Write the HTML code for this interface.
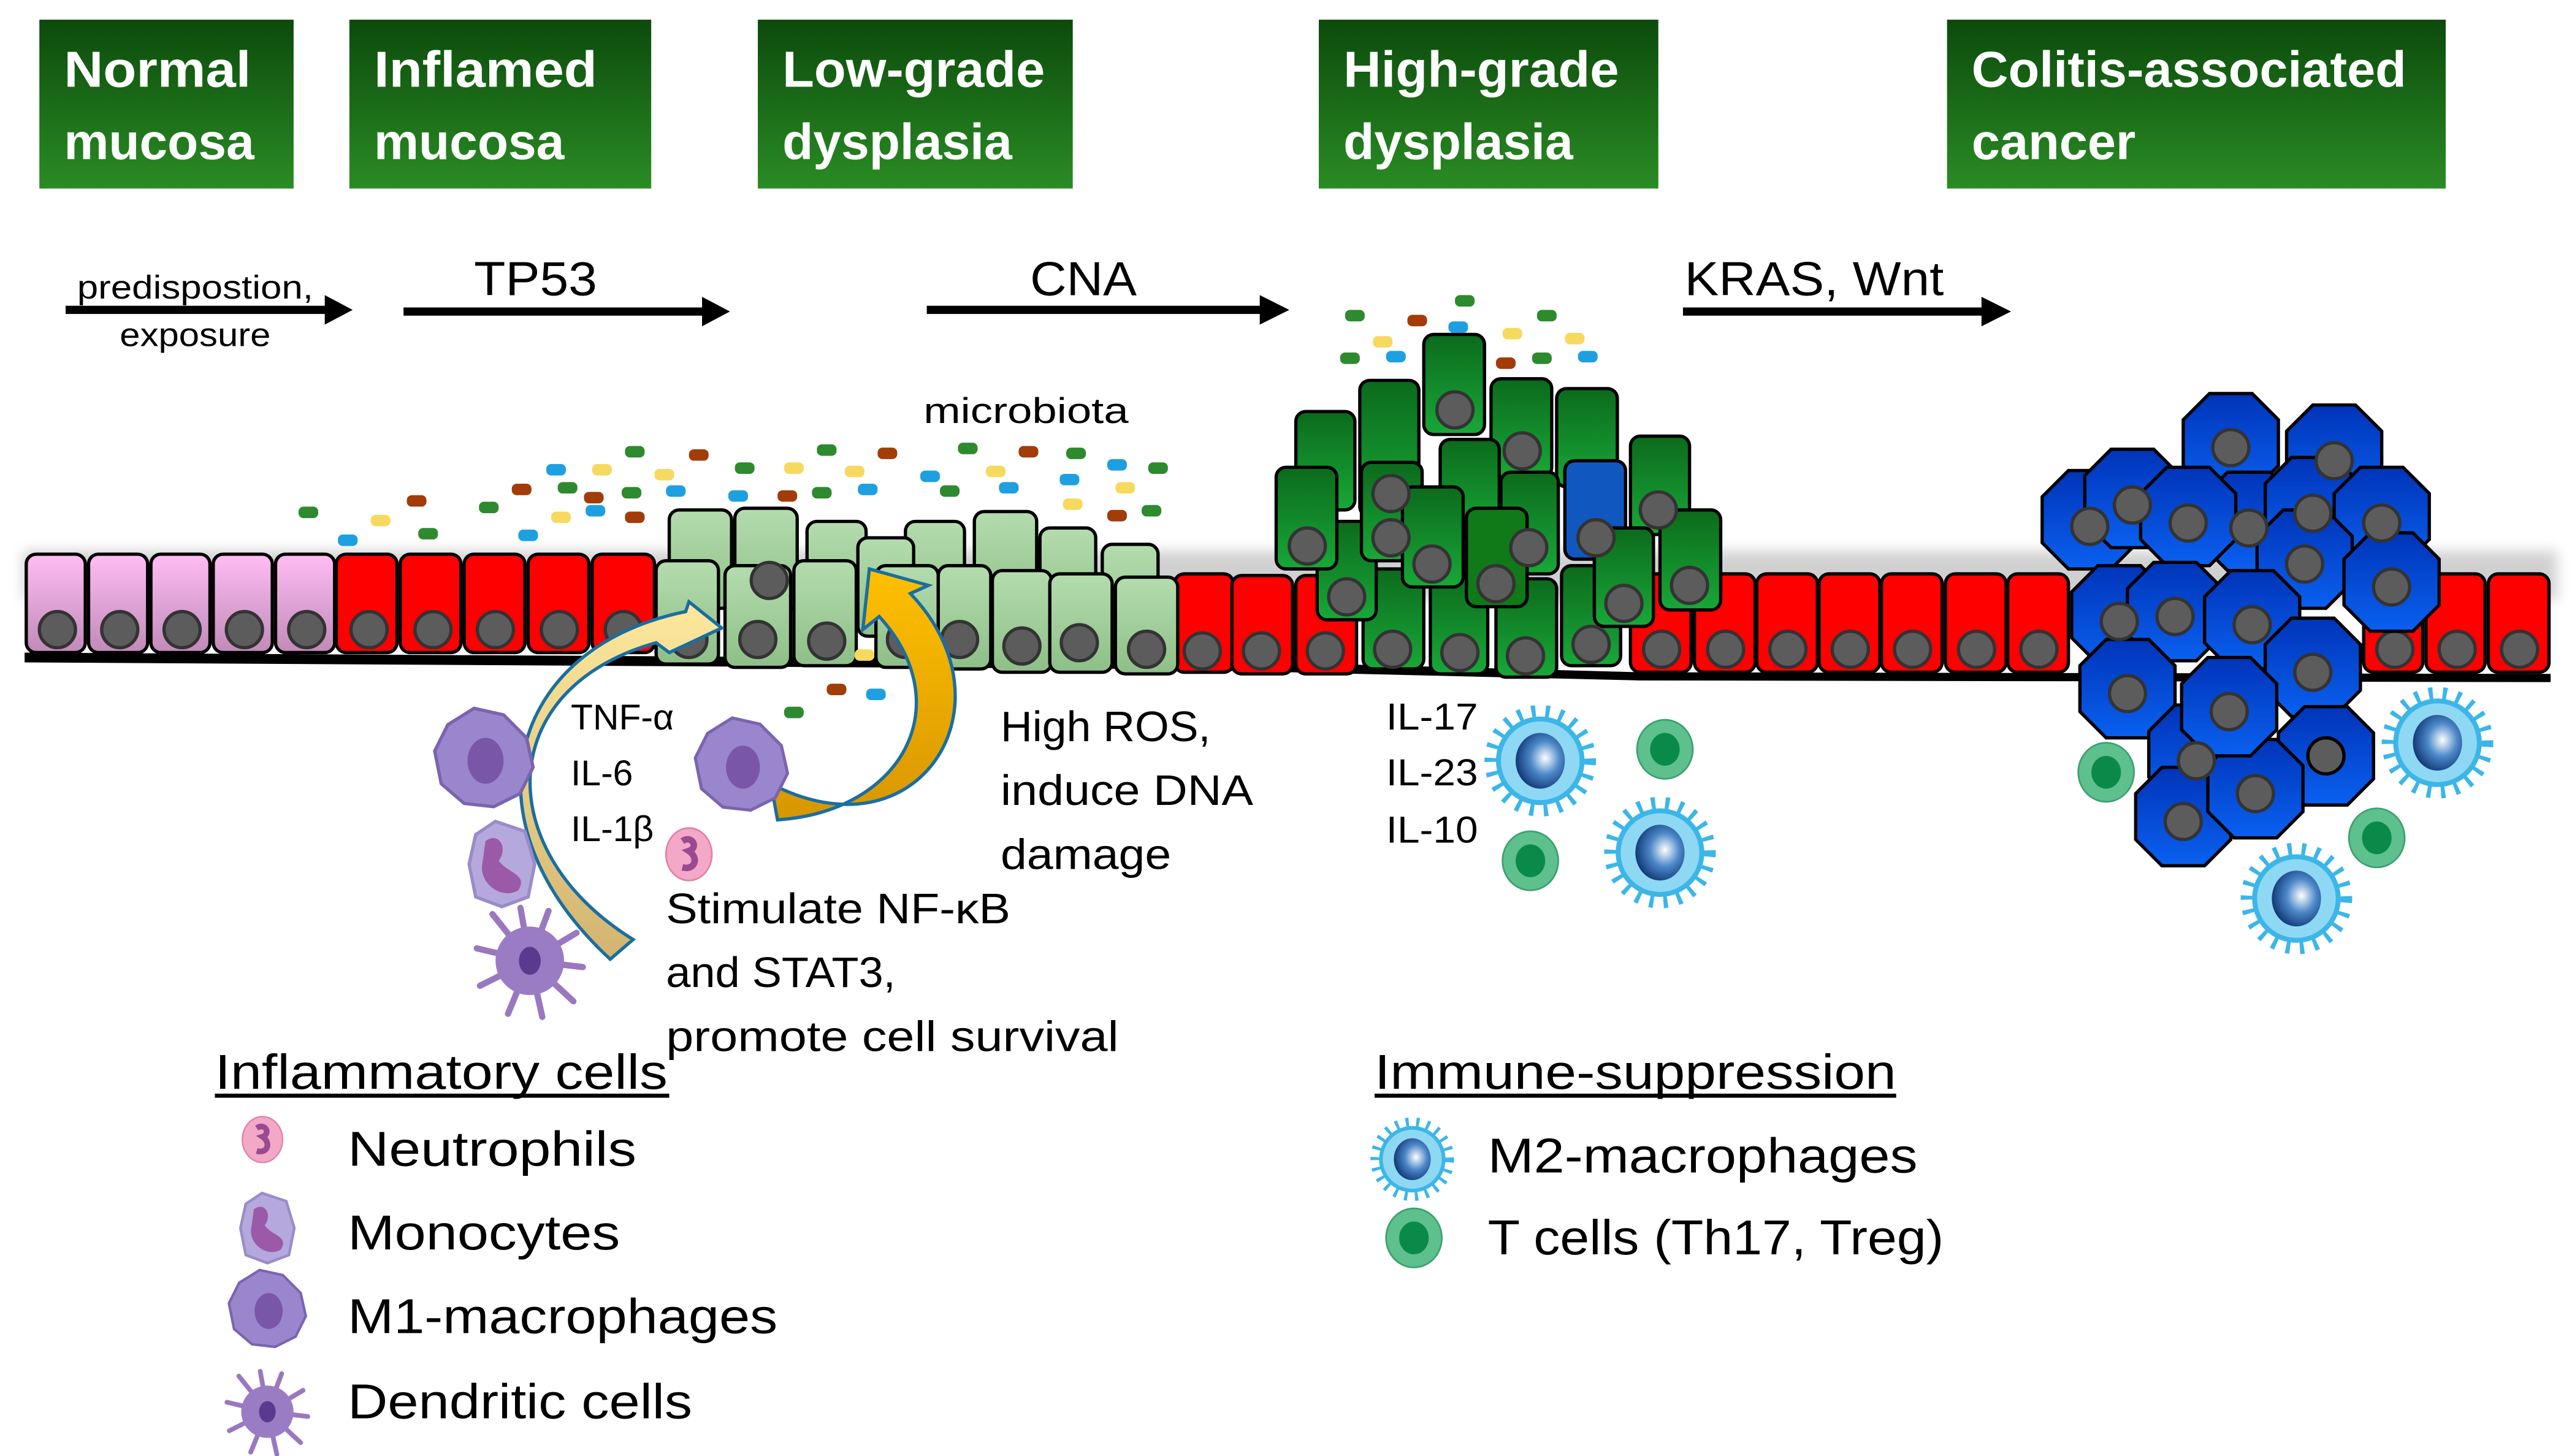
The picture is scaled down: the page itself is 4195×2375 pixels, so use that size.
<!DOCTYPE html>
<html><head><meta charset="utf-8"><style>html,body{margin:0;padding:0;background:#fff}svg{display:block}text{font-family:"Liberation Sans",sans-serif}</style></head>
<body>
<svg width="4195" height="2375" viewBox="0 0 1568 888" preserveAspectRatio="none" xmlns="http://www.w3.org/2000/svg">
<defs>
<linearGradient id="hdr" x1="0" y1="0" x2="0" y2="1"><stop offset="0" stop-color="#0c4a0c"/><stop offset="1" stop-color="#2a8c24"/></linearGradient>
<linearGradient id="lg" x1="0" y1="0" x2="0" y2="1"><stop offset="0" stop-color="#b4dcae"/><stop offset="1" stop-color="#8ebf88"/></linearGradient>
<linearGradient id="pk" x1="0" y1="0" x2="0" y2="1"><stop offset="0" stop-color="#ffbdf4"/><stop offset="1" stop-color="#c08ab8"/></linearGradient>
<linearGradient id="dg" x1="0" y1="0" x2="0" y2="1"><stop offset="0" stop-color="#0c6a1c"/><stop offset="1" stop-color="#18a838"/></linearGradient>
<linearGradient id="bl" x1="0" y1="0" x2="0" y2="1"><stop offset="0" stop-color="#0034b8"/><stop offset="1" stop-color="#0a60f0"/></linearGradient>
<linearGradient id="ya" x1="0" y1="0" x2="0" y2="1"><stop offset="0" stop-color="#fde89c"/><stop offset="1" stop-color="#d2b470"/></linearGradient>
<linearGradient id="oa" x1="0" y1="0" x2="0" y2="1"><stop offset="0" stop-color="#ffc000"/><stop offset="1" stop-color="#d89600"/></linearGradient>
<radialGradient id="nuc" cx="0.6" cy="0.45" r="0.6"><stop offset="0" stop-color="#fff"/><stop offset="0.5" stop-color="#4c88c8"/><stop offset="1" stop-color="#123a78"/></radialGradient>
<filter id="sh" x="-10%" y="-50%" width="120%" height="200%"><feGaussianBlur stdDeviation="4"/></filter>
<symbol id="m2" viewBox="-36 -36 72 72">
<circle r="30" fill="none" stroke="#3cb6e8" stroke-width="8" stroke-dasharray="2.5 6"/>
<circle r="27" fill="#3cb6e8"/><circle r="24" fill="#8fd8f4"/>
<ellipse rx="15" ry="17" fill="url(#nuc)"/>
</symbol>
<symbol id="tc" viewBox="-20 -20 40 40"><ellipse rx="17" ry="18" fill="#5ec08c" stroke="#3aa070"/><ellipse rx="9" ry="10" fill="#0a8a48"/></symbol>
<symbol id="m1" viewBox="-32 -32 64 64"><path d="M-6,-30 L12,-26 L26,-12 L30,6 L22,22 L6,30 L-12,28 L-26,16 L-30,-4 L-22,-20 Z" fill="#9a86cc" stroke="#7a64b0" stroke-width="2"/><ellipse cx="1" cy="2" rx="11" ry="14" fill="#7a56a8"/></symbol>
<symbol id="mo" viewBox="-24 -28 48 56"><path d="M-4,-26 L14,-20 L20,0 L16,20 L0,26 L-16,20 L-20,0 L-16,-18 Z" fill="#b4a8dc" stroke="#9a8cc8" stroke-width="2"/><path d="M-10,-14 C-2,-20 4,-10 -2,-2 C4,6 16,6 10,16 C0,22 -14,12 -12,0 Z" fill="#9a5aa8"/></symbol>
<symbol id="dc" viewBox="-40 -40 80 80"><g stroke="#9a78c0" stroke-width="4" stroke-linecap="round"><path d="M0,0 L-24,-30 M0,0 L-6,-34 M0,0 L12,-32 M0,0 L30,-18 M0,0 L34,4 M0,0 L28,26 M0,0 L8,36 M0,0 L-14,34 M0,0 L-32,16 M0,0 L-34,-8"/></g><circle r="22" fill="#9a7cc4"/><ellipse rx="7" ry="9" fill="#5a3a8e"/></symbol>
<symbol id="ne" viewBox="-16 -18 32 36"><ellipse rx="14" ry="16" fill="#f4a8c8" stroke="#e080a8"/><path d="M-4,-8 C2,-12 6,-4 0,-2 C6,2 4,10 -4,8" stroke="#9a4a90" stroke-width="4" fill="none"/></symbol>
</defs>

<g fill="url(#hdr)">
<rect x="24" y="12" width="155" height="103"/><rect x="213" y="12" width="184" height="103"/><rect x="462" y="12" width="192" height="103"/><rect x="804" y="12" width="207" height="103"/><rect x="1187" y="12" width="304" height="103"/>
</g>
<g fill="#fff" font-weight="bold" font-size="31">
<text x="39" y="53" textLength="114" lengthAdjust="spacingAndGlyphs">Normal</text><text x="39" y="97" textLength="116" lengthAdjust="spacingAndGlyphs">mucosa</text>
<text x="228" y="53" textLength="136" lengthAdjust="spacingAndGlyphs">Inflamed</text><text x="228" y="97" textLength="116" lengthAdjust="spacingAndGlyphs">mucosa</text>
<text x="477" y="53" textLength="160" lengthAdjust="spacingAndGlyphs">Low-grade</text><text x="477" y="97" textLength="140" lengthAdjust="spacingAndGlyphs">dysplasia</text>
<text x="819" y="53" textLength="168" lengthAdjust="spacingAndGlyphs">High-grade</text><text x="819" y="97" textLength="140" lengthAdjust="spacingAndGlyphs">dysplasia</text>
<text x="1202" y="53" textLength="265" lengthAdjust="spacingAndGlyphs">Colitis-associated</text><text x="1202" y="97" textLength="100" lengthAdjust="spacingAndGlyphs">cancer</text>
</g>

<g stroke="#000" stroke-width="5"><line x1="40" y1="189" x2="200" y2="189"/><line x1="246" y1="190" x2="430" y2="190"/><line x1="565" y1="189" x2="770" y2="189"/><line x1="1026" y1="190" x2="1210" y2="190"/></g>
<g fill="#000"><polygon points="198,180 215,189 198,198"/><polygon points="428,181 445,190 428,199"/><polygon points="768,180 786,189 768,198"/><polygon points="1208,181 1226,190 1208,199"/></g>
<g font-size="20" text-anchor="middle"><text x="119" y="182" textLength="144" lengthAdjust="spacingAndGlyphs">predispostion,</text><text x="119" y="211" textLength="92" lengthAdjust="spacingAndGlyphs">exposure</text></g>
<g font-size="29"><text x="289" y="180" textLength="75" lengthAdjust="spacingAndGlyphs">TP53</text><text x="628" y="180" textLength="65" lengthAdjust="spacingAndGlyphs">CNA</text><text x="1027" y="180" textLength="158" lengthAdjust="spacingAndGlyphs">KRAS, Wnt</text></g>
<text x="563" y="258" font-size="22" textLength="125" lengthAdjust="spacingAndGlyphs">microbiota</text>

<rect x="14" y="336" width="1545" height="30" fill="#000" opacity="0.18" filter="url(#sh)"/>

<polygon points="15,398 700,402 1000,410 1555,411 1555,416 1000,415 700,408 15,404" fill="#000"/>

<g stroke="#000" stroke-width="2">
<g fill="url(#pk)"><rect x="16" y="338" width="36" height="60" rx="6"/><rect x="54" y="338" width="36" height="60" rx="6"/><rect x="92" y="338" width="36" height="60" rx="6"/><rect x="130" y="338" width="36" height="60" rx="6"/><rect x="168" y="338" width="36" height="60" rx="6"/></g>
<g fill="#f00"><rect x="205" y="338" width="37" height="60" rx="6"/><rect x="244" y="338" width="37" height="60" rx="6"/><rect x="283" y="338" width="37" height="60" rx="6"/><rect x="322" y="338" width="37" height="60" rx="6"/><rect x="361" y="338" width="38" height="60" rx="6"/>
<rect x="716" y="350" width="36" height="60" rx="6"/><rect x="751" y="351" width="37" height="60" rx="6"/><rect x="790" y="351" width="37" height="60" rx="6"/>
<rect x="994" y="350" width="37" height="60" rx="6"/><rect x="1033" y="350" width="37" height="60" rx="6"/><rect x="1071" y="350" width="37" height="60" rx="6"/><rect x="1109" y="350" width="37" height="60" rx="6"/><rect x="1147" y="350" width="37" height="60" rx="6"/><rect x="1186" y="350" width="37" height="60" rx="6"/><rect x="1224" y="350" width="37" height="60" rx="6"/>
<rect x="1441" y="350" width="36" height="60" rx="6"/><rect x="1479" y="350" width="36" height="60" rx="6"/><rect x="1517" y="350" width="37" height="60" rx="6"/></g>
</g>
<g fill="#5c5c5c" stroke="#333" stroke-width="2">
<circle cx="35" cy="384" r="11"/><circle cx="73" cy="384" r="11"/><circle cx="111" cy="384" r="11"/><circle cx="149" cy="384" r="11"/><circle cx="187" cy="384" r="11"/>
<circle cx="225" cy="384" r="11"/><circle cx="264" cy="384" r="11"/><circle cx="302" cy="384" r="11"/><circle cx="341" cy="384" r="11"/><circle cx="380" cy="384" r="11"/>
<circle cx="733" cy="397" r="11"/><circle cx="769" cy="397" r="11"/><circle cx="808" cy="397" r="11"/>
<circle cx="1013" cy="396" r="11"/><circle cx="1052" cy="396" r="11"/><circle cx="1090" cy="396" r="11"/><circle cx="1128" cy="396" r="11"/><circle cx="1166" cy="396" r="11"/><circle cx="1205" cy="396" r="11"/><circle cx="1243" cy="396" r="11"/>
<circle cx="1460" cy="396" r="11"/><circle cx="1498" cy="396" r="11"/><circle cx="1536" cy="396" r="11"/>
</g>

<g stroke="#000" stroke-width="2" fill="url(#lg)">
<rect x="408" y="311" width="38" height="60" rx="6"/><rect x="492" y="318" width="36" height="60" rx="6"/><rect x="552" y="318" width="36" height="60" rx="6"/><rect x="594" y="312" width="38" height="62" rx="6"/><rect x="634" y="322" width="34" height="60" rx="6"/><rect x="672" y="332" width="34" height="60" rx="6"/>
<rect x="400" y="342" width="38" height="63" rx="6"/><rect x="448" y="310" width="38" height="62" rx="6"/><rect x="523" y="328" width="34" height="60" rx="6"/>
<rect x="442" y="345" width="40" height="62" rx="6"/><rect x="484" y="342" width="38" height="64" rx="6"/><rect x="534" y="345" width="38" height="62" rx="6"/><rect x="572" y="345" width="32" height="63" rx="6"/><rect x="605" y="348" width="36" height="62" rx="6"/><rect x="640" y="350" width="38" height="60" rx="6"/><rect x="680" y="352" width="38" height="59" rx="6"/>
</g>
<g fill="#5c5c5c" stroke="#333" stroke-width="2">
<circle cx="469" cy="354" r="11"/><circle cx="420" cy="390" r="11"/><circle cx="462" cy="390" r="11"/><circle cx="504" cy="391" r="11"/><circle cx="552" cy="390" r="11"/><circle cx="585" cy="390" r="11"/><circle cx="623" cy="394" r="11"/><circle cx="658" cy="392" r="11"/><circle cx="699" cy="396" r="11"/>
</g>

<g stroke="#000" stroke-width="2">
<g fill="url(#dg)">
<rect x="790" y="251" width="36" height="60" rx="6"/><rect x="829" y="232" width="36" height="83" rx="6"/><rect x="909" y="231" width="37" height="60" rx="6"/><rect x="949" y="237" width="37" height="60" rx="6"/><rect x="994" y="266" width="36" height="60" rx="6"/>
<rect x="868" y="204" width="37" height="61" rx="6"/>
<rect x="831" y="347" width="37" height="61" rx="6"/><rect x="872" y="350" width="35" height="61" rx="6"/><rect x="912" y="353" width="37" height="60" rx="6"/><rect x="952" y="345" width="36" height="61" rx="6"/>
<rect x="803" y="318" width="36" height="60" rx="6"/><rect x="878" y="268" width="36" height="60" rx="6"/><rect x="830" y="282" width="37" height="60" rx="6"/><rect x="915" y="288" width="35" height="62" rx="6"/>
<rect x="778" y="285" width="37" height="62" rx="6"/><rect x="855" y="297" width="37" height="61" rx="6"/><rect x="894" y="310" width="37" height="60" rx="6" fill="#107a18"/>
<rect x="972" y="322" width="36" height="60" rx="6"/><rect x="1012" y="311" width="37" height="61" rx="6"/>
</g>
<rect x="954" y="281" width="37" height="60" rx="6" fill="#1058c0"/>
<rect x="972" y="322" width="36" height="60" rx="6" fill="url(#dg)"/>
</g>
<g fill="#5c5c5c" stroke="#333" stroke-width="2">
<circle cx="887" cy="250" r="11"/><circle cx="849" cy="396" r="11"/><circle cx="890" cy="398" r="11"/><circle cx="930" cy="400" r="11"/><circle cx="970" cy="393" r="11"/>
<circle cx="821" cy="364" r="11"/><circle cx="848" cy="328" r="11"/><circle cx="797" cy="333" r="11"/><circle cx="873" cy="344" r="11"/><circle cx="912" cy="356" r="11"/><circle cx="928" cy="275" r="11"/><circle cx="932" cy="334" r="11"/>
<circle cx="973" cy="328" r="11"/><circle cx="990" cy="368" r="11"/><circle cx="1030" cy="357" r="11"/><circle cx="1011" cy="311" r="11"/><circle cx="848" cy="301" r="11"/>
</g>

<g stroke="#000" stroke-width="2" fill="url(#bl)">
<polygon points="-13,-30 13,-30 29,-14 29,14 13,30 -13,30 -29,14 -29,-14" transform="translate(1274,317)"/>
<polygon points="-13,-30 13,-30 29,-14 29,14 13,30 -13,30 -29,14 -29,-14" transform="translate(1300,304)"/>
<polygon points="-13,-30 13,-30 29,-14 29,14 13,30 -13,30 -29,14 -29,-14" transform="translate(1360,270)"/>
<polygon points="-13,-30 13,-30 29,-14 29,14 13,30 -13,30 -29,14 -29,-14" transform="translate(1423,277)"/>
<polygon points="-13,-30 13,-30 29,-14 29,14 13,30 -13,30 -29,14 -29,-14" transform="translate(1371,318)"/>
<polygon points="-13,-30 13,-30 29,-14 29,14 13,30 -13,30 -29,14 -29,-14" transform="translate(1410,309)"/>
<polygon points="-13,-30 13,-30 29,-14 29,14 13,30 -13,30 -29,14 -29,-14" transform="translate(1452,315)"/>
<polygon points="-13,-30 13,-30 29,-14 29,14 13,30 -13,30 -29,14 -29,-14" transform="translate(1334,315)"/>
<polygon points="-13,-30 13,-30 29,-14 29,14 13,30 -13,30 -29,14 -29,-14" transform="translate(1292,375)"/>
<polygon points="-13,-30 13,-30 29,-14 29,14 13,30 -13,30 -29,14 -29,-14" transform="translate(1405,341)"/>
<polygon points="-13,-30 13,-30 29,-14 29,14 13,30 -13,30 -29,14 -29,-14" transform="translate(1458,355)"/>
<polygon points="-13,-30 13,-30 29,-14 29,14 13,30 -13,30 -29,14 -29,-14" transform="translate(1326,373)"/>
<polygon points="-13,-30 13,-30 29,-14 29,14 13,30 -13,30 -29,14 -29,-14" transform="translate(1373,378)"/>
<polygon points="-13,-30 13,-30 29,-14 29,14 13,30 -13,30 -29,14 -29,-14" transform="translate(1410,407)"/>
<polygon points="-13,-30 13,-30 29,-14 29,14 13,30 -13,30 -29,14 -29,-14" transform="translate(1297,420)"/>
<polygon points="-13,-30 13,-30 29,-14 29,14 13,30 -13,30 -29,14 -29,-14" transform="translate(1339,460)"/>
<polygon points="-13,-30 13,-30 29,-14 29,14 13,30 -13,30 -29,14 -29,-14" transform="translate(1418,461)"/>
<polygon points="-13,-30 13,-30 29,-14 29,14 13,30 -13,30 -29,14 -29,-14" transform="translate(1331,498)"/>
<polygon points="-13,-30 13,-30 29,-14 29,14 13,30 -13,30 -29,14 -29,-14" transform="translate(1375,481)"/>
<polygon points="-13,-30 13,-30 29,-14 29,14 13,30 -13,30 -29,14 -29,-14" transform="translate(1359,431)"/>
</g>
<g fill="#5c5c5c" stroke="#333" stroke-width="2">
<circle cx="1274" cy="321" r="11"/><circle cx="1300" cy="308" r="11"/><circle cx="1360" cy="273" r="11"/><circle cx="1423" cy="281" r="11"/><circle cx="1371" cy="322" r="11"/><circle cx="1410" cy="313" r="11"/><circle cx="1452" cy="319" r="11"/><circle cx="1334" cy="319" r="11"/><circle cx="1292" cy="379" r="11"/><circle cx="1405" cy="344" r="11"/><circle cx="1458" cy="358" r="11"/><circle cx="1326" cy="376" r="11"/><circle cx="1373" cy="381" r="11"/><circle cx="1410" cy="410" r="11"/><circle cx="1297" cy="423" r="11"/><circle cx="1339" cy="464" r="11"/><circle cx="1418" cy="461" r="11" stroke="#000"/><circle cx="1331" cy="501" r="11"/><circle cx="1375" cy="484" r="11"/><circle cx="1359" cy="434" r="11"/>
</g>

<g>
<g fill="#2e8a2e"><rect x="182" y="309" width="12" height="7" rx="3"/><rect x="255" y="322" width="12" height="7" rx="3"/><rect x="292" y="306" width="12" height="7" rx="3"/><rect x="340" y="294" width="12" height="7" rx="3"/><rect x="379" y="297" width="12" height="7" rx="3"/><rect x="381" y="272" width="12" height="7" rx="3"/><rect x="448" y="282" width="12" height="7" rx="3"/><rect x="495" y="297" width="12" height="7" rx="3"/><rect x="498" y="271" width="12" height="7" rx="3"/><rect x="573" y="296" width="12" height="7" rx="3"/><rect x="584" y="270" width="12" height="7" rx="3"/><rect x="650" y="273" width="12" height="7" rx="3"/><rect x="696" y="308" width="12" height="7" rx="3"/><rect x="700" y="282" width="12" height="7" rx="3"/><rect x="478" y="431" width="12" height="7" rx="3"/><rect x="820" y="189" width="12" height="7" rx="3"/><rect x="887" y="180" width="12" height="7" rx="3"/><rect x="937" y="189" width="12" height="7" rx="3"/><rect x="817" y="215" width="12" height="7" rx="3"/><rect x="934" y="215" width="12" height="7" rx="3"/></g>
<g fill="#a23c08"><rect x="248" y="302" width="12" height="7" rx="3"/><rect x="312" y="295" width="12" height="7" rx="3"/><rect x="356" y="300" width="12" height="7" rx="3"/><rect x="381" y="312" width="12" height="7" rx="3"/><rect x="420" y="274" width="12" height="7" rx="3"/><rect x="474" y="299" width="12" height="7" rx="3"/><rect x="535" y="273" width="12" height="7" rx="3"/><rect x="621" y="272" width="12" height="7" rx="3"/><rect x="675" y="311" width="12" height="7" rx="3"/><rect x="504" y="417" width="12" height="7" rx="3"/><rect x="858" y="192" width="12" height="7" rx="3"/><rect x="912" y="218" width="12" height="7" rx="3"/></g>
<g fill="#1ea0e0"><rect x="206" y="326" width="12" height="7" rx="3"/><rect x="316" y="323" width="12" height="7" rx="3"/><rect x="333" y="283" width="12" height="7" rx="3"/><rect x="357" y="308" width="12" height="7" rx="3"/><rect x="406" y="296" width="12" height="7" rx="3"/><rect x="444" y="299" width="12" height="7" rx="3"/><rect x="523" y="295" width="12" height="7" rx="3"/><rect x="561" y="287" width="12" height="7" rx="3"/><rect x="609" y="294" width="12" height="7" rx="3"/><rect x="646" y="289" width="12" height="7" rx="3"/><rect x="675" y="280" width="12" height="7" rx="3"/><rect x="528" y="420" width="12" height="7" rx="3"/><rect x="883" y="196" width="12" height="7" rx="3"/><rect x="845" y="214" width="12" height="7" rx="3"/><rect x="962" y="214" width="12" height="7" rx="3"/></g>
<g fill="#f6da60"><rect x="226" y="314" width="12" height="7" rx="3"/><rect x="336" y="312" width="12" height="7" rx="3"/><rect x="361" y="283" width="12" height="7" rx="3"/><rect x="399" y="286" width="12" height="7" rx="3"/><rect x="478" y="282" width="12" height="7" rx="3"/><rect x="515" y="284" width="12" height="7" rx="3"/><rect x="601" y="284" width="12" height="7" rx="3"/><rect x="648" y="304" width="12" height="7" rx="3"/><rect x="680" y="294" width="12" height="7" rx="3"/><rect x="521" y="396" width="12" height="7" rx="3"/><rect x="837" y="205" width="12" height="7" rx="3"/><rect x="916" y="200" width="12" height="7" rx="3"/><rect x="954" y="203" width="12" height="7" rx="3"/></g>
</g>

<path d="M386,573 C300,520 300,420 400,392 L408,398 L440,383 L420,367 L418,373 C310,395 280,500 372,585 Z" fill="url(#ya)" stroke="#1a6ea0" stroke-width="2"/>
<path d="M470,478 C560,525 620,430 555,362 L566,357 L530,347 L526,384 L536,376 C585,430 550,495 474,500 Z" fill="url(#oa)" stroke="#1a6ea0" stroke-width="2"/>

<use href="#m1" x="263" y="430" width="64" height="64"/>
<use href="#m1" x="422" y="436" width="60" height="60"/>
<use href="#mo" x="282" y="499" width="48" height="56"/>
<use href="#dc" x="285" y="548" width="76" height="76"/>
<use href="#ne" x="404" y="503" width="32" height="36"/>

<g font-size="22"><text x="348" y="445">TNF-α</text><text x="348" y="479">IL-6</text><text x="348" y="513">IL-1β</text></g>
<g font-size="26"><text x="610" y="452" textLength="128" lengthAdjust="spacingAndGlyphs">High ROS,</text><text x="610" y="491" textLength="154" lengthAdjust="spacingAndGlyphs">induce DNA</text><text x="610" y="530" textLength="104" lengthAdjust="spacingAndGlyphs">damage</text>
<text x="406" y="563" textLength="210" lengthAdjust="spacingAndGlyphs">Stimulate NF-κB</text><text x="406" y="602" textLength="140" lengthAdjust="spacingAndGlyphs">and STAT3,</text><text x="406" y="641" textLength="276" lengthAdjust="spacingAndGlyphs">promote  cell survival</text></g>

<g font-size="23"><text x="845" y="445" textLength="56" lengthAdjust="spacingAndGlyphs">IL-17</text><text x="845" y="479" textLength="56" lengthAdjust="spacingAndGlyphs">IL-23</text><text x="845" y="514" textLength="56" lengthAdjust="spacingAndGlyphs">IL-10</text></g>
<use href="#m2" x="903" y="428" width="72" height="72"/>
<use href="#m2" x="976" y="484" width="72" height="72"/>
<use href="#m2" x="1450" y="417" width="72" height="72"/>
<use href="#m2" x="1364" y="512" width="72" height="72"/>
<use href="#tc" x="995" y="437" width="40" height="40"/>
<use href="#tc" x="913" y="505" width="40" height="40"/>
<use href="#tc" x="1264" y="451" width="40" height="40"/>
<use href="#tc" x="1429" y="491" width="40" height="40"/>

<g font-size="30">
<text x="131" y="664" textLength="276" lengthAdjust="spacingAndGlyphs">Inflammatory cells</text>
<text x="212" y="711" textLength="176" lengthAdjust="spacingAndGlyphs">Neutrophils</text>
<text x="212" y="762" textLength="166" lengthAdjust="spacingAndGlyphs">Monocytes</text>
<text x="212" y="813" textLength="262" lengthAdjust="spacingAndGlyphs">M1-macrophages</text>
<text x="212" y="865" textLength="210" lengthAdjust="spacingAndGlyphs">Dendritic cells</text>
<text x="838" y="664" textLength="318" lengthAdjust="spacingAndGlyphs">Immune-suppression</text>
<text x="907" y="715" textLength="262" lengthAdjust="spacingAndGlyphs">M2-macrophages</text>
<text x="907" y="765" textLength="278" lengthAdjust="spacingAndGlyphs">T cells (Th17, Treg)</text>
</g>
<rect x="131" y="667" width="277" height="2.5" fill="#000"/>
<rect x="838" y="667" width="318" height="2.5" fill="#000"/>
<use href="#ne" x="146" y="678" width="28" height="34"/>
<use href="#mo" x="143" y="726" width="40" height="46"/>
<use href="#m1" x="138" y="773" width="50" height="50"/>
<use href="#dc" x="134" y="832" width="58" height="58"/>
<use href="#m2" x="834" y="680" width="54" height="54"/>
<use href="#tc" x="842" y="735" width="40" height="40"/>
</svg>
</body></html>
